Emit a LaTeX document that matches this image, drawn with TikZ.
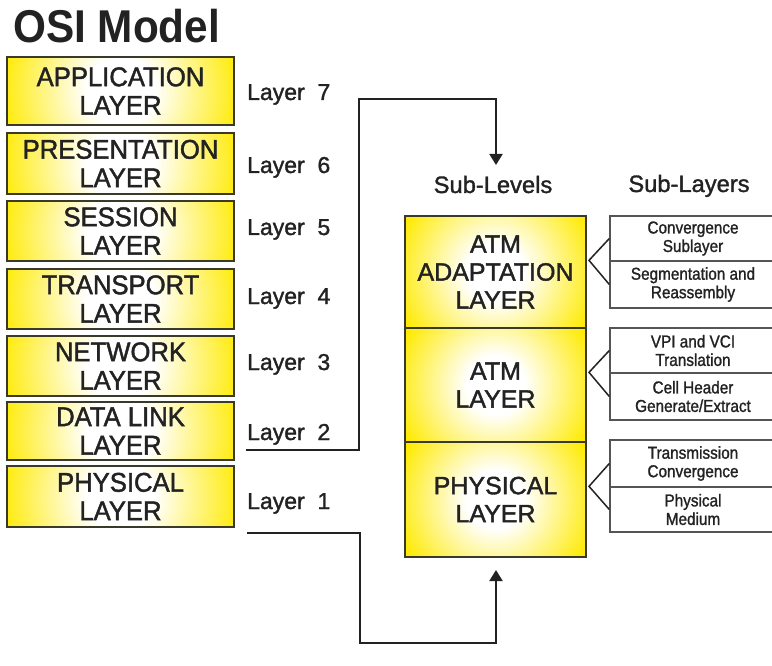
\documentclass[tikz,border=0pt]{standalone}
\usepackage{fontspec}
\setmainfont{Liberation Sans}
\newfontfamily\boxfont[FakeStretch=0.95,FakeBold=1.6]{Liberation Sans}
\newfontfamily\atmfont[FakeBold=1.6]{Liberation Sans}
\newfontfamily\lblfont[FakeBold=1.4]{Liberation Sans}
\newfontfamily\subfont[FakeStretch=0.89,FakeBold=1.3]{Liberation Sans}
\newfontfamily\ttlfont[FakeStretch=0.92]{Liberation Sans}
\usetikzlibrary{arrows.meta,calc}
\definecolor{ybright}{HTML}{FFEA00}
\definecolor{boxedge}{HTML}{3A3A2A}
\definecolor{ink}{HTML}{222222}
\definecolor{celledge}{HTML}{555555}
\pgfdeclareradialshading{yglow}{\pgfpoint{0bp}{0bp}}{%
  color(0bp)=(white); color(7bp)=(white); color(25bp)=(ybright); color(50bp)=(ybright)}
\begin{document}
\begin{tikzpicture}[x=1pt,y=-1pt,
  osi/.style={draw=boxedge, line width=1.2pt, fill=ybright, inner sep=0pt,
    minimum width=227pt, text=ink, align=center,
    font=\boxfont\fontsize{27}{28.5}\selectfont,
    path picture={\shade[shading=yglow]
      (path picture bounding box.center) circle (122pt);}},
  atmbox/.style={draw=boxedge, line width=2pt, fill=ybright, inner sep=0pt,
    minimum width=181pt, text=ink, align=center,
    font=\atmfont\fontsize{25}{28}\selectfont,
    path picture={\shade[shading=yglow]
      (path picture bounding box.center) circle (104pt);}},
  cell/.style={draw=celledge, line width=1.3pt, fill=white, inner sep=0pt,
    minimum width=166pt, text=ink, align=center,
    font=\subfont\fontsize{17.2}{18.5}\selectfont},
  lbl/.style={anchor=base west, inner sep=0pt, text=ink,
    font=\lblfont\fontsize{23}{23}\selectfont},
  head/.style={anchor=base, inner sep=0pt, text=ink,
    font=\lblfont\fontsize{23.7}{24}\selectfont},
  conn/.style={draw=ink, line width=2pt},
  arr/.style={conn, -{Triangle[length=11pt,width=13pt]}},
  brk/.style={draw=ink, line width=1.5pt}
]
\useasboundingbox (0,0) rectangle (772,666);
\clip (0,0) rectangle (772,666);

% title
\node[anchor=base west, inner sep=0pt, text=ink,
  font=\ttlfont\bfseries\fontsize{46}{46}\selectfont] (title) at (13,43) {OSI Model};

% OSI stack
\node[osi, minimum height=68pt] (app)  at (120.5,91)    {APPLICATION\\LAYER};
\node[osi, minimum height=61pt] (pres) at (120.5,163.5) {PRESENTATION\\LAYER};
\node[osi, minimum height=60pt] (sess) at (120.5,231)   {SESSION\\LAYER};
\node[osi, minimum height=60pt] (trans) at (120.5,299)  {TRANSPORT\\LAYER};
\node[osi, minimum height=60pt] (net)  at (120.5,366)   {NETWORK\\LAYER};
\node[osi, minimum height=58pt] (dl)   at (120.5,431)   {DATA LINK\\LAYER};
\node[osi, minimum height=61pt] (phy)  at (120.5,496.5) {PHYSICAL\\LAYER};

% layer labels
\node[lbl] (l7) at (247,100) {Layer\ \ 7};
\node[lbl] (l6) at (247,173) {Layer\ \ 6};
\node[lbl] (l5) at (247,235) {Layer\ \ 5};
\node[lbl] (l4) at (247,304) {Layer\ \ 4};
\node[lbl] (l3) at (247,370) {Layer\ \ 3};
\node[lbl] (l2) at (247,440) {Layer\ \ 2};
\node[lbl] (l1) at (247,509) {Layer\ \ 1};

% headings
\node[head] (sublev) at (493,193) {Sub-Levels};
\node[head] (sublay) at (689,192) {Sub-Layers};

% ATM stack
\node[atmbox, minimum height=112pt] (aal)  at (495.5,272)   {ATM\\ADAPTATION\\LAYER};
\node[atmbox, minimum height=114pt] (atm)  at (495.5,385)   {ATM\\LAYER};
\node[atmbox, minimum height=115pt] (aphy) at (495.5,499.5) {PHYSICAL\\LAYER};

% sub-layer cells
\node[cell, minimum height=45pt] (c1a) at (693,238.5) {Convergence\\Sublayer};
\node[cell, minimum height=47pt] (c1b) at (693,284.5) {Segmentation and\\Reassembly};
\node[cell, minimum height=45pt] (c2a) at (693,350.5) {VPI and VCI\\Translation};
\node[cell, minimum height=47pt] (c2b) at (693,396.5) {Cell Header\\Generate/Extract};
\node[cell, minimum height=47pt] (c3a) at (693,463.5) {Transmission\\Convergence};
\node[cell, minimum height=45pt] (c3b) at (693,509.5) {Physical\\Medium};

% brackets
\draw[brk] (c1a.west) -- ($(aal.east |- c1b.north)+(2,0)$) -- (c1b.west);
\draw[brk] (c2a.west) -- ($(atm.east |- c2b.north)+(2,0)$) -- (c2b.west);
\draw[brk] (c3a.west) -- ($(aphy.east |- c3b.north)+(2,0)$) -- (c3b.west);

% connectors
\coordinate (s2) at (246,450);
\coordinate (a7) at (496,165);
\coordinate (s1) at (247,533);
\coordinate (a1) at (496,570);
\draw[arr] (s2) -| (359,99) -| (a7);
\draw[arr] (s1) -| (360,643) -| (a1);
\end{tikzpicture}
\end{document}
